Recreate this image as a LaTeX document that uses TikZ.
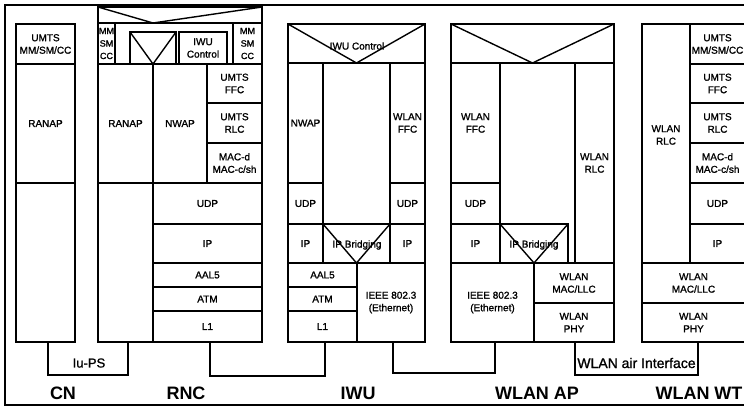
\documentclass[tikz,border=0pt]{standalone}
\usepackage{fontspec}
\setmainfont{Liberation Sans}[BoldFont={Liberation Sans}, BoldFeatures={FakeBold=1.2}]
\newfontfamily\titlefont{Liberation Sans Bold}
\tikzset{
  box/.style={draw, line width=1.4pt, inner sep=0pt, outer sep=0pt, align=center,
    font=\fontsize{10}{12.5}\selectfont\bfseries},
  txt/.style={inner sep=0pt, outer sep=0pt, align=center, font=\fontsize{10}{12.5}\selectfont\bfseries},
  small/.style={font=\fontsize{9}{12.5}\selectfont\bfseries},
  ghost/.style={inner sep=0pt, outer sep=0pt},
  link/.style={line width=1.4pt},
  vee/.style={line width=1.4pt},
  title/.style={inner sep=0pt, font=\fontsize{18}{20}\selectfont\titlefont},
  linklabel/.style={inner sep=0pt, font=\fontsize{13}{15}\selectfont\bfseries},
}
\newcommand{\bx}[7][]{%
  \pgfmathsetmacro\bxw{#5-#3}\pgfmathsetmacro\bxh{#6-#4}%
  \node[box, #1, minimum width=\bxw pt, minimum height=\bxh pt] (#2) at ({(#3+#5)/2},{(#4+#6)/2}) {#7};}
\newcommand{\gh}[5]{%
  \pgfmathsetmacro\bxw{#4-#2}\pgfmathsetmacro\bxh{#5-#3}%
  \node[ghost, minimum width=\bxw pt, minimum height=\bxh pt] (#1) at ({(#2+#4)/2},{(#3+#5)/2}) {};}
\begin{document}
\begin{tikzpicture}[x=1pt, y=-1pt]
\useasboundingbox (0,0) rectangle (744,407);
\clip (0,0) rectangle (744,407);
\fill[white] (0,0) rectangle (744,407);

% outer frame
\draw[line width=2.2pt] (5,5) rectangle (770,405);

% ---------------- CN ----------------
\bx{cnmm}{16}{24}{75}{64}{UMTS\\MM/SM/CC}
\bx{cnranap}{16}{64}{75}{183}{RANAP}
\bx{cnlow}{16}{183}{75}{342}{}

% ---------------- RNC ----------------
\bx{rnc}{98}{7}{262}{342}{}
\bx{rncv}{98}{7}{262}{23}{}
\coordinate (rncapex) at (153,23);
\draw[vee] (rncv.north west) -- (rncapex) -- (rncv.north east);
\bx[small]{rncmml}{98}{23}{115}{64}{MM\\SM\\CC}
\bx{rnctri}{130}{32}{176}{64}{}
\draw[vee] (rnctri.north west) -- (rnctri.south) -- (rnctri.north east);
\bx{rncctl}{179}{32}{227}{64}{IWU\\Control}
\bx[small]{rncmmr}{233}{23}{262}{64}{MM\\SM\\CC}
\bx{rncranap}{98}{64}{153}{183}{RANAP}
\bx{rncnwap}{153}{64}{207}{183}{NWAP}
\bx{rncffc}{207}{64}{262}{103}{UMTS\\FFC}
\bx{rncrlc}{207}{103}{262}{143}{UMTS\\RLC}
\bx{rncmac}{207}{143}{262}{183}{MAC-d\\MAC-c/sh}
\bx{rnclow}{98}{183}{153}{342}{}
\bx{rncudp}{153}{183}{262}{224}{UDP}
\bx{rncip}{153}{224}{262}{263}{IP}
\bx{rncaal}{153}{263}{262}{287}{AAL5}
\bx{rncatm}{153}{287}{262}{311}{ATM}
\bx{rncl1}{153}{311}{262}{342}{L1}

% ---------------- IWU ----------------
\bx{iwu}{288}{24}{425}{342}{}
\bx{iwuctl}{288}{24}{425}{63}{}
\draw[vee] (iwuctl.north west) -- (iwuctl.south) -- (iwuctl.north east);
\node[txt] (iwuctlt) at (357,46) {IWU Control};
\bx{iwunwap}{288}{63}{323}{183}{NWAP}
\bx{iwumid}{323}{63}{390}{224}{}
\bx{iwuffc}{390}{63}{425}{183}{WLAN\\FFC}
\bx{iwuudpl}{288}{183}{323}{224}{UDP}
\bx{iwuipl}{288}{224}{323}{263}{IP}
\bx{iwubr}{323}{224}{390}{263}{}
\draw[vee] (iwubr.north west) -- (iwubr.south) -- (iwubr.north east);
\node[txt] (iwubrt) at (357,245) {IP Bridging};
\bx{iwuudpr}{390}{183}{425}{224}{UDP}
\bx{iwuipr}{390}{224}{425}{263}{IP}
\bx{iwuaal}{288}{263}{357}{287}{AAL5}
\bx{iwuatm}{288}{287}{357}{311}{ATM}
\bx{iwul1}{288}{311}{357}{342}{L1}
\bx{iwueth}{357}{263}{425}{342}{IEEE 802.3\\(Ethernet)}

% ---------------- WLAN AP ----------------
\bx{ap}{451}{24}{614}{342}{}
\bx{apctl}{451}{24}{614}{63}{}
\draw[vee] (apctl.north west) -- (apctl.south) -- (apctl.north east);
\bx{apffc}{451}{63}{500}{183}{WLAN\\FFC}
\bx{apudp}{451}{183}{500}{224}{UDP}
\bx{apip}{451}{224}{500}{263}{IP}
\bx{apbr}{500}{224}{568}{263}{}
\draw[vee] (apbr.north west) -- (apbr.south) -- (apbr.north east);
\node[txt] (apbrt) at (534,245) {IP Bridging};
\bx{aprlc}{575}{63}{614}{263}{WLAN\\RLC}
\bx{apeth}{451}{263}{534}{342}{IEEE 802.3\\(Ethernet)}
\bx{apmac}{534}{263}{614}{303}{WLAN\\MAC/LLC}
\bx{apphy}{534}{303}{614}{342}{WLAN\\PHY}

% ---------------- WLAN WT ----------------
\bx{wt}{642}{24}{745}{342}{}
\bx{wtrlc}{642}{24}{690}{263}{}
\node[txt] (wtrlct) at (666,135) {WLAN\\RLC};
\bx{wtmm}{690}{24}{745}{64}{UMTS\\MM/SM/CC}
\bx{wtffc}{690}{64}{745}{103}{UMTS\\FFC}
\bx{wtrlcu}{690}{103}{745}{143}{UMTS\\RLC}
\bx{wtmac}{690}{143}{745}{183}{MAC-d\\MAC-c/sh}
\bx{wtudp}{690}{183}{745}{224}{UDP}
\bx{wtip}{690}{224}{745}{263}{IP}
\bx{wtmacllc}{642}{263}{745}{303}{WLAN\\MAC/LLC}
\bx{wtphy}{642}{303}{745}{342}{WLAN\\PHY}

% ---------------- links ----------------
\gh{iups}{48}{342}{128}{375}
\draw[link] (cnlow.south -| iups.west) -- (iups.south west) -- (iups.south east) -- (rnclow.south -| iups.east);
\node[linklabel] (iupst) at (89,363) {Iu-PS};

\gh{riw}{210}{342}{325}{376}
\draw[link] (rncl1.south -| riw.west) -- (riw.south west) -- (riw.south east) -- (iwul1.south -| riw.east);

\gh{iap}{393}{342}{495}{373}
\draw[link] (iwueth.south -| iap.west) -- (iap.south west) -- (iap.south east) -- (apeth.south -| iap.east);

\gh{awt}{575}{342}{698}{375}
\draw[link] (apphy.south -| awt.west) -- (awt.south west) -- (awt.south east) -- (wtphy.south -| awt.east);
\node[inner sep=0pt, font=\fontsize{14}{16}\selectfont\bfseries] (awtt) at (636.5,363) {WLAN air Interface};

% ---------------- titles ----------------
\node[title] (tcn) at (63,393.5) {CN};
\node[title] (trnc) at (186,393.5) {RNC};
\node[title] (tiwu) at (358,393.5) {IWU};
\node[title] (tap) at (537,393.5) {WLAN AP};
\node[title] (twt) at (699,393.5) {WLAN WT};
\end{tikzpicture}
\end{document}
